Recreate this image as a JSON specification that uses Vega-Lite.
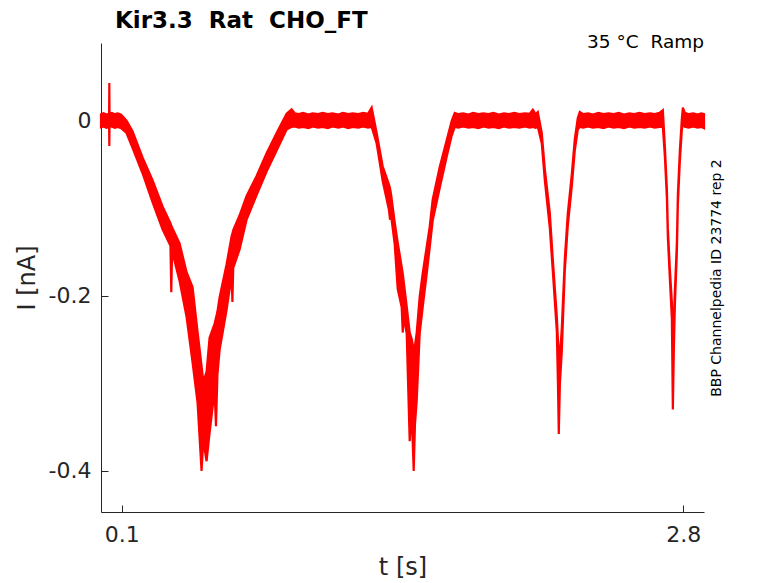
{
  "$schema": "https://vega.github.io/schema/vega-lite/v6.json",
  "autosize": "none",
  "padding": {"left": 101, "top": 43, "right": 74, "bottom": 71},
  "width": 603,
  "height": 469,
  "title": {
    "text": "Kir3.3\u00a0\u00a0Rat\u00a0\u00a0CHO_FT",
    "anchor": "start",
    "frame": "group",
    "dx": 14,
    "dy": 21,
    "offset": 3,
    "baseline": "alphabetic",
    "font": "DejaVu Sans",
    "fontSize": 23,
    "fontWeight": "bold",
    "color": "#000000"
  },
  "config": {
    "view": {"stroke": null},
    "font": "DejaVu Sans",
    "axis": {
      "grid": false,
      "domainColor": "#262626",
      "domainWidth": 1,
      "tickColor": "#262626",
      "tickSize": -7,
      "labelColor": "#262626",
      "labelFont": "DejaVu Sans",
      "labelFontSize": 22,
      "labelFlush": false,
      "labelOverlap": false,
      "titleColor": "#262626",
      "titleFont": "DejaVu Sans",
      "titleFontSize": 24,
      "titleFontWeight": "normal"
    }
  },
  "data": {
    "values": [
      {"t": 0.0, "lo": -0.0075, "hi": 0.0075},
      {"t": 0.012, "lo": -0.0065, "hi": 0.0085},
      {"t": 0.026, "lo": -0.008, "hi": 0.007},
      {"t": 0.039, "lo": -0.007, "hi": 0.008},
      {"t": 0.04, "lo": -0.029, "hi": 0.043},
      {"t": 0.041, "lo": -0.007, "hi": 0.008},
      {"t": 0.052, "lo": -0.0065, "hi": 0.009},
      {"t": 0.066, "lo": -0.008, "hi": 0.0075},
      {"t": 0.081, "lo": -0.007, "hi": 0.0085},
      {"t": 0.097, "lo": -0.0085, "hi": 0.007},
      {"t": 0.1227, "lo": -0.014, "hi": 0.0},
      {"t": 0.1516, "lo": -0.031, "hi": -0.012},
      {"t": 0.1997, "lo": -0.06, "hi": -0.042},
      {"t": 0.2478, "lo": -0.093, "hi": -0.068},
      {"t": 0.296, "lo": -0.124, "hi": -0.098},
      {"t": 0.334, "lo": -0.143, "hi": -0.117},
      {"t": 0.338, "lo": -0.196, "hi": -0.12},
      {"t": 0.342, "lo": -0.149, "hi": -0.122},
      {"t": 0.3778, "lo": -0.183, "hi": -0.14},
      {"t": 0.4115, "lo": -0.224, "hi": -0.173},
      {"t": 0.4403, "lo": -0.276, "hi": -0.19},
      {"t": 0.4644, "lo": -0.322, "hi": -0.241},
      {"t": 0.4836, "lo": -0.4, "hi": -0.28},
      {"t": 0.492, "lo": -0.365, "hi": -0.298},
      {"t": 0.5077, "lo": -0.389, "hi": -0.287},
      {"t": 0.5221, "lo": -0.357, "hi": -0.248},
      {"t": 0.5462, "lo": -0.308, "hi": -0.232},
      {"t": 0.553, "lo": -0.349, "hi": -0.225},
      {"t": 0.56, "lo": -0.29, "hi": -0.218},
      {"t": 0.5703, "lo": -0.262, "hi": -0.202},
      {"t": 0.604, "lo": -0.216, "hi": -0.164},
      {"t": 0.628, "lo": -0.177, "hi": -0.132},
      {"t": 0.632, "lo": -0.207, "hi": -0.129},
      {"t": 0.636, "lo": -0.168, "hi": -0.125},
      {"t": 0.6665, "lo": -0.147, "hi": -0.108},
      {"t": 0.7002, "lo": -0.113, "hi": -0.086},
      {"t": 0.7483, "lo": -0.085, "hi": -0.063},
      {"t": 0.7964, "lo": -0.058, "hi": -0.037},
      {"t": 0.8446, "lo": -0.034, "hi": -0.014},
      {"t": 0.8927, "lo": -0.01, "hi": 0.008},
      {"t": 0.9167, "lo": -0.007, "hi": 0.013},
      {"t": 0.932, "lo": -0.0065, "hi": 0.0085},
      {"t": 0.951, "lo": -0.008, "hi": 0.0075},
      {"t": 0.972, "lo": -0.007, "hi": 0.009},
      {"t": 0.998, "lo": -0.0085, "hi": 0.007},
      {"t": 1.017, "lo": -0.0065, "hi": 0.0085},
      {"t": 1.044, "lo": -0.008, "hi": 0.0075},
      {"t": 1.066, "lo": -0.007, "hi": 0.009},
      {"t": 1.091, "lo": -0.0085, "hi": 0.0075},
      {"t": 1.113, "lo": -0.0065, "hi": 0.0085},
      {"t": 1.142, "lo": -0.008, "hi": 0.007},
      {"t": 1.163, "lo": -0.0065, "hi": 0.009},
      {"t": 1.189, "lo": -0.0085, "hi": 0.0075},
      {"t": 1.21, "lo": -0.007, "hi": 0.0085},
      {"t": 1.238, "lo": -0.008, "hi": 0.0075},
      {"t": 1.261, "lo": -0.0065, "hi": 0.009},
      {"t": 1.284, "lo": -0.008, "hi": 0.008},
      {"t": 1.3017, "lo": -0.007, "hi": 0.015},
      {"t": 1.3258, "lo": -0.026, "hi": -0.014},
      {"t": 1.3547, "lo": -0.069, "hi": -0.052},
      {"t": 1.385, "lo": -0.102, "hi": -0.073},
      {"t": 1.39, "lo": -0.113, "hi": -0.077},
      {"t": 1.395, "lo": -0.108, "hi": -0.084},
      {"t": 1.4124, "lo": -0.141, "hi": -0.116},
      {"t": 1.4269, "lo": -0.192, "hi": -0.139},
      {"t": 1.4461, "lo": -0.213, "hi": -0.167},
      {"t": 1.451, "lo": -0.242, "hi": -0.174},
      {"t": 1.456, "lo": -0.224, "hi": -0.184},
      {"t": 1.4702, "lo": -0.243, "hi": -0.212},
      {"t": 1.4846, "lo": -0.366, "hi": -0.242},
      {"t": 1.494, "lo": -0.332, "hi": -0.249},
      {"t": 1.5039, "lo": -0.4, "hi": -0.261},
      {"t": 1.51, "lo": -0.347, "hi": -0.257},
      {"t": 1.5183, "lo": -0.32, "hi": -0.242},
      {"t": 1.5327, "lo": -0.243, "hi": -0.201},
      {"t": 1.5472, "lo": -0.213, "hi": -0.174},
      {"t": 1.5664, "lo": -0.175, "hi": -0.144},
      {"t": 1.5808, "lo": -0.145, "hi": -0.121},
      {"t": 1.5953, "lo": -0.114, "hi": -0.09},
      {"t": 1.629, "lo": -0.077, "hi": -0.053},
      {"t": 1.6627, "lo": -0.041, "hi": -0.022},
      {"t": 1.6867, "lo": -0.017, "hi": 0.0},
      {"t": 1.7012, "lo": -0.007, "hi": 0.009},
      {"t": 1.718, "lo": -0.008, "hi": 0.0075},
      {"t": 1.741, "lo": -0.0065, "hi": 0.0085},
      {"t": 1.768, "lo": -0.008, "hi": 0.007},
      {"t": 1.789, "lo": -0.007, "hi": 0.009},
      {"t": 1.815, "lo": -0.0085, "hi": 0.0075},
      {"t": 1.839, "lo": -0.0065, "hi": 0.0085},
      {"t": 1.864, "lo": -0.008, "hi": 0.0075},
      {"t": 1.887, "lo": -0.007, "hi": 0.009},
      {"t": 1.913, "lo": -0.0085, "hi": 0.007},
      {"t": 1.938, "lo": -0.0065, "hi": 0.0085},
      {"t": 1.962, "lo": -0.008, "hi": 0.0075},
      {"t": 1.988, "lo": -0.007, "hi": 0.009},
      {"t": 2.012, "lo": -0.008, "hi": 0.0075},
      {"t": 2.039, "lo": -0.0065, "hi": 0.0085},
      {"t": 2.062, "lo": -0.008, "hi": 0.008},
      {"t": 2.077, "lo": -0.007, "hi": 0.0125},
      {"t": 2.09, "lo": -0.008, "hi": 0.0075},
      {"t": 2.1006, "lo": -0.007, "hi": 0.01},
      {"t": 2.1198, "lo": -0.026, "hi": -0.014},
      {"t": 2.1343, "lo": -0.068, "hi": -0.055},
      {"t": 2.1583, "lo": -0.122, "hi": -0.105},
      {"t": 2.1728, "lo": -0.172, "hi": -0.158},
      {"t": 2.192, "lo": -0.24, "hi": -0.223},
      {"t": 2.1975, "lo": -0.3, "hi": -0.25},
      {"t": 2.2016, "lo": -0.358, "hi": -0.262},
      {"t": 2.207, "lo": -0.3, "hi": -0.27},
      {"t": 2.216, "lo": -0.264, "hi": -0.237},
      {"t": 2.2305, "lo": -0.172, "hi": -0.158},
      {"t": 2.2449, "lo": -0.12, "hi": -0.106},
      {"t": 2.2642, "lo": -0.075, "hi": -0.061},
      {"t": 2.2786, "lo": -0.034, "hi": -0.021},
      {"t": 2.293, "lo": -0.01, "hi": 0.003},
      {"t": 2.3027, "lo": -0.007, "hi": 0.01},
      {"t": 2.319, "lo": -0.008, "hi": 0.0075},
      {"t": 2.343, "lo": -0.0065, "hi": 0.0085},
      {"t": 2.366, "lo": -0.008, "hi": 0.007},
      {"t": 2.392, "lo": -0.007, "hi": 0.009},
      {"t": 2.417, "lo": -0.0085, "hi": 0.0075},
      {"t": 2.44, "lo": -0.0065, "hi": 0.0085},
      {"t": 2.466, "lo": -0.008, "hi": 0.0075},
      {"t": 2.49, "lo": -0.007, "hi": 0.009},
      {"t": 2.515, "lo": -0.0085, "hi": 0.007},
      {"t": 2.541, "lo": -0.0065, "hi": 0.0085},
      {"t": 2.564, "lo": -0.008, "hi": 0.0075},
      {"t": 2.59, "lo": -0.007, "hi": 0.009},
      {"t": 2.614, "lo": -0.008, "hi": 0.0075},
      {"t": 2.64, "lo": -0.0065, "hi": 0.0085},
      {"t": 2.663, "lo": -0.008, "hi": 0.0075},
      {"t": 2.686, "lo": -0.007, "hi": 0.009},
      {"t": 2.7021, "lo": -0.007, "hi": 0.012},
      {"t": 2.7118, "lo": -0.041, "hi": -0.029},
      {"t": 2.7214, "lo": -0.088, "hi": -0.077},
      {"t": 2.7262, "lo": -0.134, "hi": -0.123},
      {"t": 2.7358, "lo": -0.181, "hi": -0.169},
      {"t": 2.7454, "lo": -0.226, "hi": -0.207},
      {"t": 2.7502, "lo": -0.33, "hi": -0.24},
      {"t": 2.755, "lo": -0.262, "hi": -0.229},
      {"t": 2.7599, "lo": -0.211, "hi": -0.194},
      {"t": 2.7695, "lo": -0.151, "hi": -0.139},
      {"t": 2.7743, "lo": -0.096, "hi": -0.084},
      {"t": 2.7839, "lo": -0.046, "hi": -0.034},
      {"t": 2.7936, "lo": -0.01, "hi": 0.003},
      {"t": 2.7984, "lo": -0.004, "hi": 0.015},
      {"t": 2.808, "lo": -0.007, "hi": 0.009},
      {"t": 2.826, "lo": -0.008, "hi": 0.0075},
      {"t": 2.848, "lo": -0.0065, "hi": 0.0085},
      {"t": 2.869, "lo": -0.008, "hi": 0.007},
      {"t": 2.887, "lo": -0.007, "hi": 0.0085},
      {"t": 2.9, "lo": -0.0085, "hi": 0.0075}
    ]
  },
  "layer": [
    {
      "mark": {
        "type": "area",
        "color": "#ff0000",
        "stroke": "#ff0000",
        "strokeWidth": 2.2,
        "interpolate": "linear",
        "opacity": 1
      },
      "encoding": {
        "x": {
          "field": "t",
          "type": "quantitative",
          "scale": {"domain": [0, 2.9], "nice": false, "zero": false},
          "axis": {
            "title": "t [s]",
            "values": [0.1, 2.8],
            "format": ".1f",
            "labelPadding": 19,
            "titlePadding": 10
          }
        },
        "y": {
          "field": "lo",
          "type": "quantitative",
          "scale": {"domain": [-0.447, 0.0888], "nice": false, "zero": false},
          "axis": {
            "orient": "left",
            "title": "I [nA]",
            "values": [0, -0.2, -0.4],
            "labelExpr": "datum.value == 0 ? '0' : replace(format(datum.value, '.1f'), '\u2212', '-')",
            "labelPadding": 17,
            "titlePadding": 9
          }
        },
        "y2": {"field": "hi"}
      }
    },
    {
      "data": {"values": [{}]},
      "mark": {
        "type": "text",
        "align": "right",
        "baseline": "alphabetic",
        "font": "DejaVu Sans",
        "fontSize": 18.5,
        "color": "#000000"
      },
      "encoding": {
        "x": {
          "datum": 2.9,
          "type": "quantitative",
          "axis": {
            "title": "t [s]",
            "values": [0.1, 2.8],
            "format": ".1f",
            "labelPadding": 19,
            "titlePadding": 10
          }
        },
        "y": {
          "datum": 0.0836,
          "type": "quantitative",
          "axis": {
            "orient": "right",
            "title": "BBP Channelpedia ID 23774 rep 2",
            "titleFontSize": 14,
            "titleColor": "#000000",
            "titleAngle": 270,
            "titleBaseline": "top",
            "titlePadding": 5,
            "labels": false,
            "ticks": false,
            "domain": false,
            "minExtent": 0,
            "maxExtent": 0
          }
        },
        "text": {"value": "35 °C\u00a0\u00a0Ramp"}
      }
    }
  ],
  "resolve": {"axis": {"y": "independent"}}
}
